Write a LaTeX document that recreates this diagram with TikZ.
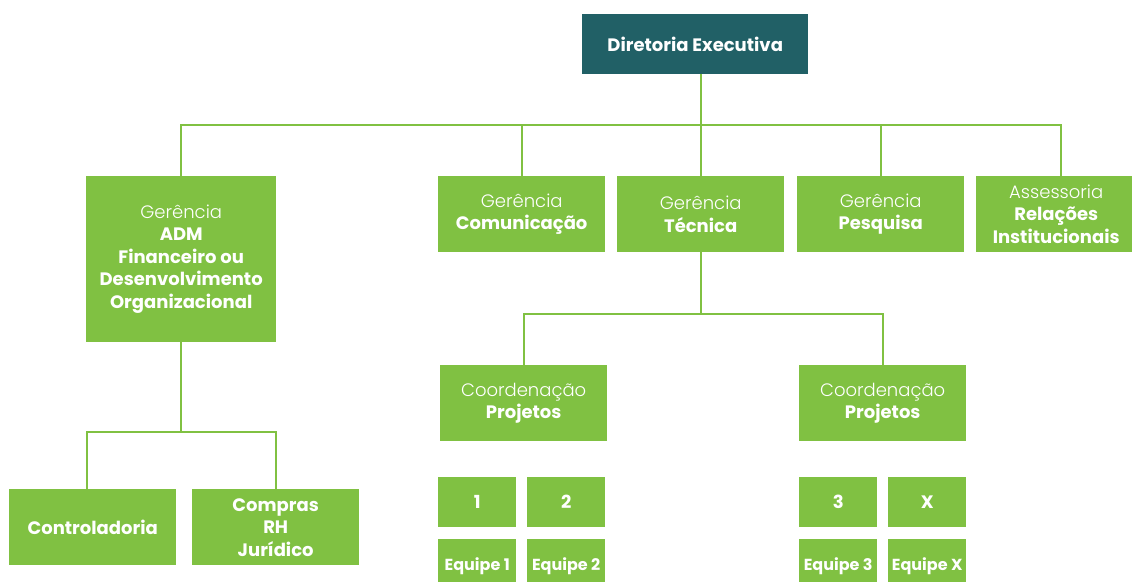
\documentclass[tikz,border=0pt]{standalone}
\usepackage{fontspec}
\setmainfont{Poppins}
\newfontfamily\lightfont{Poppins}[UprightFont=* Light]
\definecolor{orgGreen}{HTML}{80C142}
\definecolor{orgTeal}{HTML}{216066}
\newcommand{\lt}[1]{{\lightfont\mdseries #1}}
\begin{document}
\begin{tikzpicture}[x=1pt,y=-1pt,
  box/.style={fill=orgGreen, text=white, inner sep=0pt, anchor=north west, align=center,
    font=\fontsize{18}{22.5}\selectfont\bfseries},
  smallbox/.style={box, font=\fontsize{16}{18}\selectfont\bfseries},
  conn/.style={draw=orgGreen, line width=2pt}]
\clip (0,0) rectangle (1132,581);
\fill[white] (0,0) rectangle (1132,581);
% top
\node[box, fill=orgTeal, minimum width=226pt, minimum height=60pt] (dir) at (582,14) {Diretoria Executiva};
% second level
\node[box, minimum width=190pt, minimum height=166pt] (adm) at (86,176)
  {\lt{Gerência}\\ADM\\Financeiro ou\\Desenvolvimento\\Organizacional};
\node[box, minimum width=167pt, minimum height=76pt] (com) at (438,176) {\lt{Gerência}\\Comunicação};
\node[box, minimum width=167pt, minimum height=76pt] (tec) at (617,176) {\lt{Gerência}\\Técnica};
\node[box, minimum width=167pt, minimum height=76pt] (pes) at (797,176) {\lt{Gerência}\\Pesquisa};
\node[box, minimum width=160pt, minimum height=76pt] (ass) at (976,176) {\lt{Assessoria}\\Relações\\Institucionais};
\coordinate (asstop) at (1061,176);
% coordination
\node[box, minimum width=167pt, minimum height=76pt] (co1) at (440,365) {\lt{Coordenação}\\Projetos};
\node[box, minimum width=167pt, minimum height=76pt] (co2) at (799,365) {\lt{Coordenação}\\Projetos};
% adm children
\node[box, minimum width=167pt, minimum height=76pt] (ctl) at (9,489) {Controladoria};
\node[box, minimum width=167pt, minimum height=76pt] (cmp) at (192,489) {Compras\\RH\\Jurídico};
\coordinate (ctltop) at (87,489);
% projects
\node[box, minimum width=78pt, minimum height=50pt] (p1) at (438,477) {1};
\node[box, minimum width=78pt, minimum height=50pt] (p2) at (527,477) {2};
\node[box, minimum width=78pt, minimum height=50pt] (p3) at (799,477) {3};
\node[box, minimum width=78pt, minimum height=50pt] (px) at (888,477) {X};
\node[smallbox, minimum width=78pt, minimum height=54pt] (e1) at (438,539) {Equipe 1};
\node[smallbox, minimum width=78pt, minimum height=54pt] (e2) at (527,539) {Equipe 2};
\node[smallbox, minimum width=78pt, minimum height=54pt] (e3) at (799,539) {Equipe 3};
\node[smallbox, minimum width=78pt, minimum height=54pt] (ex) at (888,539) {Equipe X};
% connectors
\coordinate (bus) at (0,125);
\coordinate (tbus) at (0,314);
\coordinate (abus) at (0,432);
\draw[conn] (tec.north) -- (tec.north |- dir.south);
\draw[conn] (adm.north) -- (adm.north |- bus) -- (asstop |- bus) -- (asstop);
\draw[conn] (com.north) -- (com.north |- bus);
\draw[conn] (pes.north) -- (pes.north |- bus);
\draw[conn] (tec.south) -- (tec.south |- tbus);
\draw[conn] (co1.north) -- (co1.north |- tbus) -- (co2.north |- tbus) -- (co2.north);
\draw[conn] (adm.south) -- (adm.south |- abus);
\draw[conn] (ctltop) -- (ctltop |- abus) -- (cmp.north |- abus) -- (cmp.north);
\end{tikzpicture}
\end{document}
